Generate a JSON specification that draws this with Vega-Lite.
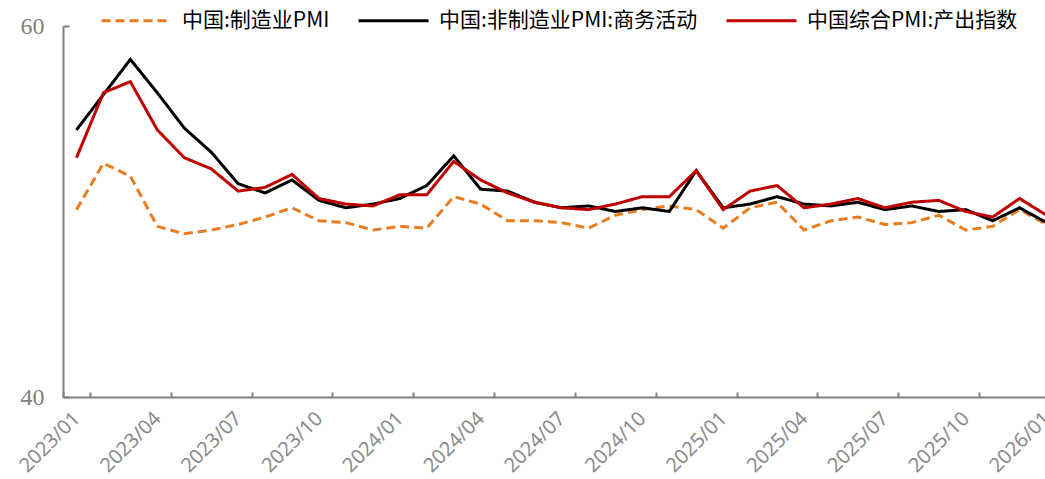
{
  "$schema": "https://vega.github.io/schema/vega-lite/v6.json",
  "autosize": {"type": "none"},
  "padding": {"left": 63, "top": 26, "right": 0, "bottom": 82},
  "width": 982,
  "height": 371,
  "background": "white",
  "config": {"view": {"stroke": null}},
  "data": {"values": [
    {"m": "2023/01", "a": 50.1, "b": 54.4, "c": 52.9},
    {"m": "2023/02", "a": 52.6, "b": 56.3, "c": 56.4},
    {"m": "2023/03", "a": 51.9, "b": 58.2, "c": 57.0},
    {"m": "2023/04", "a": 49.2, "b": 56.4, "c": 54.4},
    {"m": "2023/05", "a": 48.8, "b": 54.5, "c": 52.9},
    {"m": "2023/06", "a": 49.0, "b": 53.2, "c": 52.3},
    {"m": "2023/07", "a": 49.3, "b": 51.5, "c": 51.1},
    {"m": "2023/08", "a": 49.7, "b": 51.0, "c": 51.3},
    {"m": "2023/09", "a": 50.2, "b": 51.7, "c": 52.0},
    {"m": "2023/10", "a": 49.5, "b": 50.6, "c": 50.7},
    {"m": "2023/11", "a": 49.4, "b": 50.2, "c": 50.4},
    {"m": "2023/12", "a": 49.0, "b": 50.4, "c": 50.3},
    {"m": "2024/01", "a": 49.2, "b": 50.7, "c": 50.9},
    {"m": "2024/02", "a": 49.1, "b": 51.4, "c": 50.9},
    {"m": "2024/03", "a": 50.8, "b": 53.0, "c": 52.7},
    {"m": "2024/04", "a": 50.4, "b": 51.2, "c": 51.7},
    {"m": "2024/05", "a": 49.5, "b": 51.1, "c": 51.0},
    {"m": "2024/06", "a": 49.5, "b": 50.5, "c": 50.5},
    {"m": "2024/07", "a": 49.4, "b": 50.2, "c": 50.2},
    {"m": "2024/08", "a": 49.1, "b": 50.3, "c": 50.1},
    {"m": "2024/09", "a": 49.8, "b": 50.0, "c": 50.4},
    {"m": "2024/10", "a": 50.1, "b": 50.2, "c": 50.8},
    {"m": "2024/11", "a": 50.3, "b": 50.0, "c": 50.8},
    {"m": "2024/12", "a": 50.1, "b": 52.2, "c": 52.2},
    {"m": "2025/01", "a": 49.1, "b": 50.2, "c": 50.1},
    {"m": "2025/02", "a": 50.2, "b": 50.4, "c": 51.1},
    {"m": "2025/03", "a": 50.5, "b": 50.8, "c": 51.4},
    {"m": "2025/04", "a": 49.0, "b": 50.4, "c": 50.2},
    {"m": "2025/05", "a": 49.5, "b": 50.3, "c": 50.4},
    {"m": "2025/06", "a": 49.7, "b": 50.5, "c": 50.7},
    {"m": "2025/07", "a": 49.3, "b": 50.1, "c": 50.2},
    {"m": "2025/08", "a": 49.4, "b": 50.3, "c": 50.5},
    {"m": "2025/09", "a": 49.8, "b": 50.0, "c": 50.6},
    {"m": "2025/10", "a": 49.0, "b": 50.1, "c": 50.0},
    {"m": "2025/11", "a": 49.2, "b": 49.5, "c": 49.7},
    {"m": "2025/12", "a": 50.1, "b": 50.2, "c": 50.7},
    {"m": "2026/01", "a": 49.3, "b": 49.4, "c": 49.8}
  ]},
  "transform": [
    {"fold": ["a", "b", "c"], "as": ["k", "value"]},
    {"lookup": "k", "from": {"data": {"values": [
      {"k": "a", "series": "中国:制造业PMI"},
      {"k": "b", "series": "中国:非制造业PMI:商务活动"},
      {"k": "c", "series": "中国综合PMI:产出指数"}
    ]}, "key": "k", "fields": ["series"]}}
  ],
  "mark": {"type": "line", "strokeWidth": 3, "clip": true},
  "encoding": {
    "x": {
      "field": "m", "type": "ordinal", "bandPosition": 0.5,
      "scale": {"type": "band", "range": [0, 997], "paddingInner": 0, "paddingOuter": 0},
      "axis": {
        "title": null,
        "values": ["2023/01", "2023/04", "2023/07", "2023/10", "2024/01", "2024/04", "2024/07", "2024/10", "2025/01", "2025/04", "2025/07", "2025/10", "2026/01"],
        "labelAngle": -45,
        "labelFont": "Noto Sans",
        "labelFontSize": 20,
        "labelColor": "#8a8a8a",
        "labelPadding": 16,
        "labelOffset": -7,
        "tickBand": "extent",
        "tickSize": -5,
        "tickColor": "#808080",
        "tickWidth": 2,
        "domainColor": "#808080",
        "domainWidth": 2,
        "grid": false
      }
    },
    "y": {
      "field": "value", "type": "quantitative",
      "scale": {"domain": [40, 60], "nice": false, "zero": false},
      "axis": {
        "title": null, "values": [40, 60], "grid": false,
        "ticks": true, "tickSize": -6, "tickColor": "#808080", "tickWidth": 2,
        "labelFont": "Liberation Serif", "labelFontSize": 24, "labelColor": "#808080",
        "labelPadding": 25, "domainColor": "#808080", "domainWidth": 2
      }
    },
    "color": {
      "field": "series", "type": "nominal",
      "scale": {"domain": ["中国:制造业PMI", "中国:非制造业PMI:商务活动", "中国综合PMI:产出指数"], "range": ["#E97C1F", "#000000", "#C00000"]},
      "legend": {"title": null, "orient": "none", "legendX": 37, "legendY": -42, "direction": "horizontal",
        "symbolType": "stroke", "symbolSize": 4900, "symbolStrokeWidth": 3,
        "labelFont": "Noto Sans CJK SC", "labelFontSize": 21, "labelColor": "#000000", "labelLimit": 0,
        "labelOffset": 9, "columnPadding": 22}
    },
    "strokeDash": {
      "field": "series", "type": "nominal",
      "scale": {"domain": ["中国:制造业PMI", "中国:非制造业PMI:商务活动", "中国综合PMI:产出指数"], "range": [[9, 5], [1, 0], [1, 0]]},
      "legend": {"title": null, "orient": "none", "legendX": 37, "legendY": -42, "direction": "horizontal",
        "symbolType": "stroke", "symbolSize": 4900, "symbolStrokeWidth": 3,
        "labelFont": "Noto Sans CJK SC", "labelFontSize": 21, "labelColor": "#000000", "labelLimit": 0,
        "labelOffset": 9, "columnPadding": 22}
    }
  }
}
